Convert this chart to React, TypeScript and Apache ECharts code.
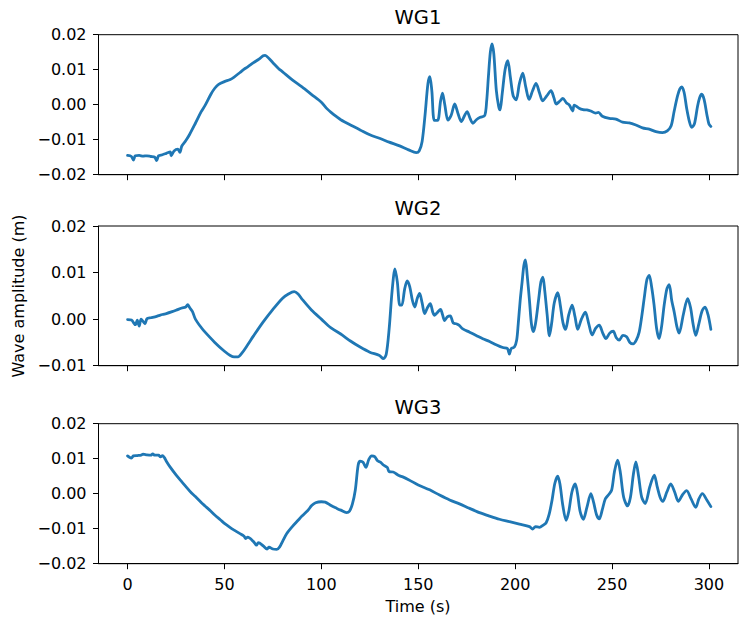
import React, { useEffect, useRef } from "react";
import * as echarts from "echarts";

const panelTitles = ["WG1", "WG2", "WG3"];
const xTickValues = [0, 50, 100, 150, 200, 250, 300];
const yRanges = [
  [-0.02, 0.02],
  [-0.01, 0.02],
  [-0.02, 0.02],
];

const wg1Time = [0, 2, 3, 4, 6, 8, 10, 12, 14, 15, 16, 18, 20, 22, 22.5, 24, 26, 27, 28, 30, 32, 35, 38, 40, 43, 45, 47, 50, 53, 55, 58, 60, 62, 65, 68, 70, 71, 73, 75, 78, 80, 85, 90, 95, 100, 103, 105, 108, 110, 115, 120, 125, 130, 135, 140, 145, 149, 150.5, 152, 153.5, 155, 156, 157, 158.3, 160, 161.5, 162.5, 163.7, 165.3, 167, 168.8, 170.5, 172.2, 174, 175.2, 176.8, 178.2, 180, 182, 184.3, 185.3, 186.2, 187.2, 188.1, 189, 190.3, 191.5, 192.2, 193.3, 194.8, 196.2, 197.5, 199, 200.5, 202.2, 203.9, 205.5, 207.2, 209, 210.8, 212.5, 214.2, 216.3, 218.5, 220, 221.2, 223, 224.6, 226.5, 228, 229.7, 230.5, 233, 235, 237, 239, 241.5, 243, 245, 248.6, 252, 255.4, 258.9, 262.3, 265.7, 269.2, 272.6, 276, 278.5, 280.5, 282, 283.8, 285, 286, 287.2, 288.5, 290, 291.1, 292.5, 294.1, 295.2, 296.3, 297.5, 299, 300, 301];
const wg1Amp = [-0.0145, -0.0148, -0.0158, -0.0146, -0.0145, -0.0147, -0.0146, -0.0148, -0.015, -0.016, -0.0146, -0.0143, -0.0139, -0.0135, -0.0146, -0.0132, -0.0127, -0.0136, -0.0118, -0.0103, -0.0085, -0.0053, -0.002, -0.0002, 0.003, 0.0047, 0.0058, 0.0066, 0.0072, 0.0079, 0.0092, 0.0101, 0.0108, 0.012, 0.0131, 0.014, 0.0141, 0.0132, 0.012, 0.0103, 0.0094, 0.0071, 0.0051, 0.0029, 0.0007, -0.0012, -0.0022, -0.0035, -0.0043, -0.0058, -0.0072, -0.0086, -0.0096, -0.0107, -0.0117, -0.0129, -0.0137, -0.0132, -0.0105, -0.003, 0.006, 0.008, 0.004, -0.0045, -0.0045, 0.001, 0.0033, 0.0, -0.0044, -0.003, 0.0002, -0.0025, -0.0048, -0.003, -0.002, -0.004, -0.0053, -0.0043, -0.0036, -0.0031, 0.001, 0.008, 0.015, 0.0174, 0.0145, 0.004, -0.0005, -0.0015, 0.003, 0.01, 0.0126, 0.008, 0.0025, 0.0014, 0.006, 0.009, 0.005, 0.0015, 0.004, 0.0061, 0.0035, 0.0011, 0.0025, 0.004, 0.002, 0.0002, 0.001, 0.0018, 0.0005, -0.0001, -0.0018, -0.0001, -0.001, -0.0014, -0.0015, -0.0018, -0.0024, -0.0022, -0.0033, -0.0039, -0.0041, -0.005, -0.0052, -0.0058, -0.0066, -0.007, -0.0077, -0.008, -0.0075, -0.006, -0.002, 0.0025, 0.0045, 0.0051, 0.0035, -0.001, -0.005, -0.0065, -0.0055, -0.0005, 0.002, 0.003, 0.0015, -0.003, -0.0055, -0.0062];

const wg2Time = [0, 2, 4, 5, 6, 7, 9, 10, 12, 15, 18, 20, 23, 25, 28, 30, 31, 32, 33.5, 35, 38, 40, 45, 50, 53, 55, 57, 59, 62, 65, 70, 75, 80, 83, 86, 88, 90, 95, 100, 105, 110, 115, 120, 125, 130, 132, 133.5, 135, 136.5, 138, 139.2, 140.5, 141.5, 143, 144.3, 145.6, 147, 148.2, 149.5, 150.7, 152, 153.3, 154.8, 156.2, 157.5, 158.4, 160, 161.5, 162.5, 163.6, 165, 166.5, 168, 169.6, 171, 173, 176.5, 179.9, 183.3, 186.8, 190.2, 193.6, 196, 197, 198, 199.6, 200.8, 201.6, 202.6, 203.6, 204.5, 205.3, 206.2, 207.4, 208.4, 209.4, 210.5, 212.2, 213.3, 214.3, 215.3, 216.5, 217.7, 218.8, 220.2, 222, 223.3, 224.7, 226, 227.7, 229.4, 230.9, 232.3, 234.2, 236.2, 238, 239.7, 241.5, 243.4, 245.2, 246.9, 248.8, 250.6, 252.2, 253.7, 255.6, 257.5, 259.2, 260.9, 262.5, 264, 265.3, 266.6, 268, 269.2, 270.4, 271.7, 273, 274.3, 275.6, 276.9, 278.3, 279.5, 280.8, 282.1, 283.4, 284.6, 286.8, 289, 290.5, 291.8, 293.2, 294.8, 296.5, 298, 299.5, 301];
const wg2Amp = [-0.0001, -0.0002, -0.0012, -0.0002, -0.0015, 0.0, -0.001, 0.0001, 0.0003, 0.0006, 0.001, 0.0012, 0.0016, 0.0019, 0.0024, 0.0026, 0.0031, 0.0025, 0.0016, 0.0, -0.0018, -0.0028, -0.005, -0.0069, -0.0078, -0.0081, -0.0081, -0.0073, -0.0055, -0.0036, -0.0006, 0.0021, 0.0045, 0.0054, 0.0059, 0.0054, 0.0043, 0.0019, 0.0, -0.0019, -0.0032, -0.0047, -0.006, -0.0071, -0.0078, -0.0085, -0.0075, -0.002, 0.006, 0.0108, 0.008, 0.003, 0.003, 0.0065, 0.0082, 0.007, 0.004, 0.0026, 0.0045, 0.0055, 0.0035, 0.0012, 0.0025, 0.0033, 0.0015, 0.0008, 0.0015, 0.0021, 0.001, -0.0003, 0.0005, 0.0007, -0.0008, -0.001, -0.0013, -0.0021, -0.0028, -0.0035, -0.0042, -0.0048, -0.0055, -0.0061, -0.0063, -0.0075, -0.0063, -0.006, -0.0045, -0.001, 0.004, 0.008, 0.0115, 0.0127, 0.0095, 0.004, -0.001, -0.0027, -0.001, 0.0045, 0.008, 0.009, 0.006, 0.001, -0.0036, -0.001, 0.0035, 0.0057, 0.003, -0.0008, -0.0022, 0.001, 0.003, 0.0005, -0.0022, 0.0, 0.0015, -0.001, -0.0034, -0.002, -0.0013, -0.003, -0.0042, -0.003, -0.0026, -0.004, -0.0045, -0.0035, -0.0038, -0.005, -0.0053, -0.0045, -0.0028, 0.0005, 0.0045, 0.0085, 0.0094, 0.007, 0.003, -0.002, -0.0042, -0.0015, 0.003, 0.0065, 0.0074, 0.004, 0.0015, -0.0015, -0.003, 0.001, 0.0044, 0.0025, -0.001, -0.0035, -0.001, 0.0018, 0.0026, 0.001, -0.0022];

const wg3Time = [0, 1, 2, 3, 5, 7, 8, 10, 12, 13, 14, 16, 17, 18, 19, 20, 22, 25, 28, 30, 33, 35, 38, 40, 43, 45, 48, 50, 53, 55, 58, 60, 61, 62, 65, 66.5, 67.5, 70, 72, 73, 75, 77, 78.5, 80, 82, 85, 88, 90, 93, 95, 97, 100, 102, 105, 108, 110, 113, 114.5, 116, 117.5, 119, 120, 121.5, 123, 124.5, 126, 127.5, 129, 130.5, 132, 134, 135, 137, 140, 142, 145, 150, 155.9, 161, 166.2, 171.3, 176.5, 181.6, 186.8, 191.9, 197.1, 202.2, 207.4, 209, 210.5, 212.5, 214.5, 216, 217.5, 219, 220.5, 222, 223.2, 224.5, 226.3, 227.7, 229.3, 231, 232.2, 233.5, 235.2, 237, 239.1, 240.5, 242, 243.4, 245, 246.5, 248.2, 249.8, 251.3, 252.9, 254.3, 256, 258, 259.5, 261, 262.3, 263.7, 265.3, 267.1, 269.5, 271.8, 273.3, 274.8, 276.2, 278.3, 280.3, 282.3, 284.2, 286.5, 288.5, 290.8, 293.2, 294.8, 296.6, 298.9, 301];
const wg3Amp = [0.0108, 0.0104, 0.0102, 0.0108, 0.0109, 0.011, 0.0113, 0.0111, 0.011, 0.0114, 0.011, 0.011, 0.0105, 0.0109, 0.0103, 0.0093, 0.0076, 0.0054, 0.0034, 0.0021, 0.0002, -0.0008, -0.0025, -0.0035, -0.005, -0.0061, -0.0075, -0.0085, -0.0097, -0.0104, -0.0114, -0.0121, -0.0128, -0.0124, -0.0137, -0.0147, -0.014, -0.0149, -0.0158, -0.0153, -0.0158, -0.0159, -0.0152, -0.0136, -0.0115, -0.0094, -0.0076, -0.0064, -0.0048, -0.0034, -0.0026, -0.0023, -0.0024, -0.0034, -0.0042, -0.0047, -0.0054, -0.005, -0.003, 0.001, 0.0082, 0.0093, 0.009, 0.0075, 0.0098, 0.0108, 0.0106, 0.0094, 0.009, 0.0082, 0.0075, 0.0063, 0.0062, 0.0052, 0.0048, 0.004, 0.0025, 0.0011, -0.0004, -0.0018, -0.0029, -0.0042, -0.0054, -0.0064, -0.0073, -0.008, -0.0087, -0.0094, -0.0101, -0.0094, -0.0096, -0.009, -0.0083, -0.006, -0.002, 0.003, 0.005, 0.0025, -0.003, -0.0076, -0.005, 0.0005, 0.0028, 0.0, -0.005, -0.0073, -0.004, 0.0, -0.0025, -0.006, -0.0072, -0.0045, -0.0015, -0.0003, 0.001, 0.0065, 0.0096, 0.006, -0.001, -0.0035, -0.001, 0.0055, 0.0091, 0.005, -0.001, -0.0028, 0.002, 0.0053, 0.002, -0.001, -0.0022, 0.0005, 0.0028, 0.0005, -0.0022, -0.0002, 0.0009, -0.0015, -0.0039, -0.0015, 0.0, -0.0018, -0.0037];

const seriesTimes = [wg1Time, wg2Time, wg3Time];
const seriesAmps = [wg1Amp, wg2Amp, wg3Amp];

const FONT = "DejaVu Sans";
const gridLeft = 98.5;
const gridWidth = 639.5;
const gridTops = [34.7, 226, 423.7];
const gridHeights = [140, 139.7, 140];

function fmtY(v: number) {
  const r = Math.round(v * 100) / 100;
  if (Math.abs(r) < 1e-9) return "0.00";
  return (r < 0 ? "\u2212" : "") + Math.abs(r).toFixed(2);
}

export default function App() {
  const ref = useRef<HTMLDivElement>(null);
  useEffect(() => {
    const chart = echarts.init(ref.current!, null, { renderer: "svg" });
    const grids = [0, 1, 2].map((i) => ({
      left: gridLeft,
      top: gridTops[i],
      width: gridWidth,
      height: gridHeights[i],
      show: true,
      borderColor: "#000",
      borderWidth: 1,
      backgroundColor: "transparent",
      containLabel: false,
    }));
    const xAxes = [0, 1, 2].map((i) => ({
      gridIndex: i,
      type: "value",
      min: -15,
      max: 315,
      axisLine: { show: true, onZero: false, lineStyle: { color: "#000", width: 1 } },
      axisTick: { show: true, customValues: xTickValues, length: 5.5, lineStyle: { color: "#000", width: 1 } },
      axisLabel: {
        show: i === 2,
        customValues: xTickValues,
        color: "#000",
        fontSize: 16,
        fontFamily: FONT,
        margin: 13,
      },
      splitLine: { show: false },
    }));
    const yAxes = [0, 1, 2].map((i) => ({
      gridIndex: i,
      type: "value",
      min: yRanges[i][0],
      max: yRanges[i][1],
      interval: 0.01,
      axisLine: { show: true, onZero: false, lineStyle: { color: "#000", width: 1 } },
      axisTick: { show: true, length: 5.5, lineStyle: { color: "#000", width: 1 } },
      axisLabel: {
        color: "#000",
        fontSize: 16,
        fontFamily: FONT,
        margin: 12,
        formatter: fmtY,
      },
      splitLine: { show: false },
    }));
    const series = [0, 1, 2].map((i) => ({
      type: "line",
      xAxisIndex: i,
      yAxisIndex: i,
      data: seriesTimes[i].map((t, k) => [t, seriesAmps[i][k]]),
      showSymbol: false,
      symbol: "none",
      smooth: 0.3,
      lineStyle: { color: "#1f77b4", width: 2.8, join: "round", cap: "round" },
      z: 3,
    }));
    const graphic: any[] = panelTitles.map((t, i) => ({
      type: "text",
      x: 418,
      y: [17.5, 208, 407.5][i],
      style: {
        text: t,
        fontSize: 19.5,
        fontFamily: FONT,
        fill: "#000",
        align: "center",
        verticalAlign: "middle",
        textAlign: "center",
        textVerticalAlign: "middle",
      },
    }));
    graphic.push({
      type: "text",
      x: 18.3,
      y: 296,
      rotation: Math.PI / 2,
      style: {
        text: "Wave amplitude (m)",
        fontSize: 16,
        fontFamily: FONT,
        fill: "#000",
        align: "center",
        verticalAlign: "middle",
        textAlign: "center",
        textVerticalAlign: "middle",
      },
    });
    graphic.push({
      type: "text",
      x: 418,
      y: 606,
      style: {
        text: "Time (s)",
        fontSize: 16,
        fontFamily: FONT,
        fill: "#000",
        align: "center",
        verticalAlign: "middle",
        textAlign: "center",
        textVerticalAlign: "middle",
      },
    });
    chart.setOption({
      animation: false,
      backgroundColor: "#fff",
      grid: grids,
      xAxis: xAxes,
      yAxis: yAxes,
      series,
      graphic,
    } as any);
    return () => chart.dispose();
  }, []);
  return (
    <div
      ref={ref}
      style={{ position: "absolute", left: 0, top: 0, width: 739, height: 617 }}
    />
  );
}
